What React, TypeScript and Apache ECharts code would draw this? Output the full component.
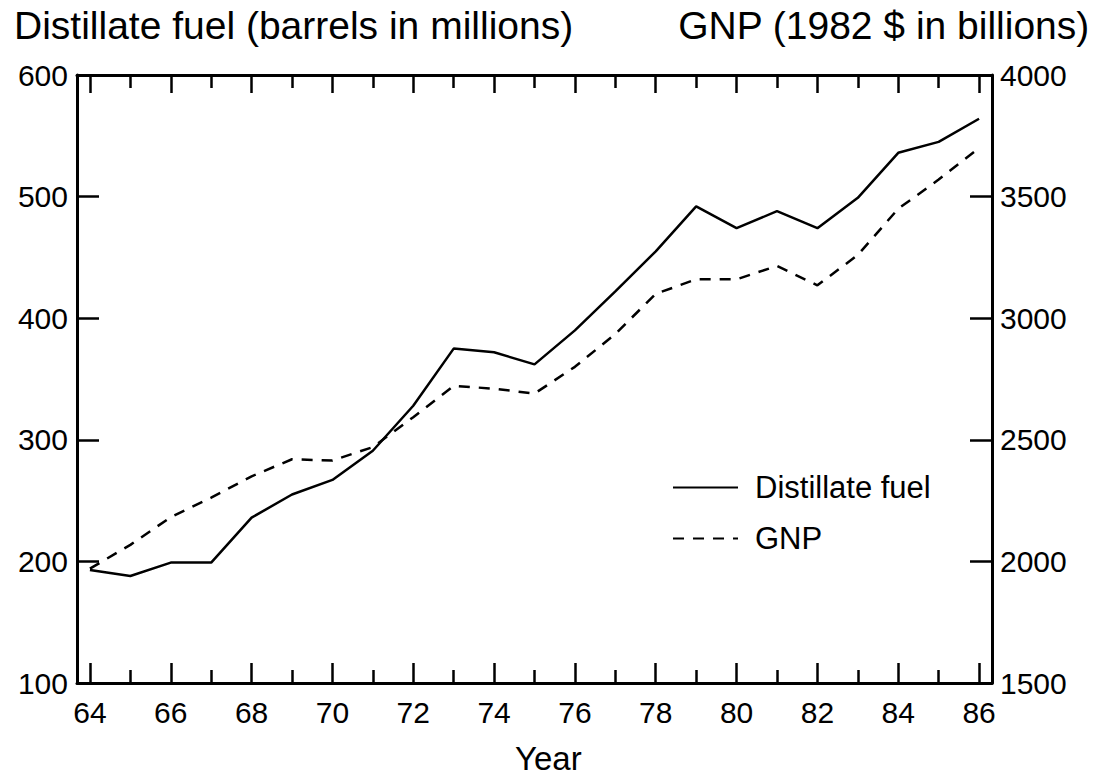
import React, { useEffect, useRef } from "react";
import * as echarts from "echarts";

const years = [64, 65, 66, 67, 68, 69, 70, 71, 72, 73, 74, 75, 76, 77, 78, 79, 80, 81, 82, 83, 84, 85, 86];
const distillate = [193, 188, 199, 199, 236, 255, 267, 291, 328, 375, 372, 362, 390, 422, 455, 492, 474, 488, 474, 499, 536, 545, 564];
const gnp = [1970, 2068, 2182, 2262, 2350, 2420, 2415, 2470, 2593, 2722, 2710, 2690, 2800, 2935, 3100, 3160, 3160, 3215, 3135, 3260, 3450, 3570, 3700];
const majorYears = [64, 66, 68, 70, 72, 74, 76, 78, 80, 82, 84, 86];
const minorYears = [65, 67, 69, 71, 73, 75, 77, 79, 81, 83, 85];

const leftTitle = "Distillate fuel (barrels in millions)";
const rightTitle = "GNP (1982 $ in billions)";
const xName = "Year";
const seriesNames = ["Distillate fuel", "GNP"];

const FONT = "'Liberation Sans', Arial, Helvetica, sans-serif";

export default function App() {
  const ref = useRef<HTMLDivElement>(null);
  useEffect(() => {
    if (!ref.current) return;
    const chart = echarts.init(ref.current, null, { renderer: "svg" });
    const xBase = {
      type: "value",
      min: 63.68,
      max: 86.32,
      splitLine: { show: false },
    };
    const tickStyle = { color: "#000", width: 2.5 };
    chart.setOption({
      animation: false,
      backgroundColor: "#fff",
      textStyle: { fontFamily: FONT, color: "#000" },
      grid: { left: 77, right: 105, top: 75, bottom: 97, containLabel: false, outerBoundsMode: "none" },
      xAxis: [
        {
          ...xBase,
          position: "bottom",
          axisLine: { show: true, lineStyle: { color: "#000", width: 3 } },
          axisTick: { show: true, inside: true, length: 20, lineStyle: tickStyle, customValues: majorYears },
          axisLabel: { show: true, customValues: majorYears, fontSize: 30, color: "#000", margin: 14, fontFamily: FONT },
        },
        {
          ...xBase,
          position: "bottom",
          axisLine: { show: false },
          axisTick: { show: true, inside: true, length: 13, lineStyle: tickStyle, customValues: minorYears },
          axisLabel: { show: false },
        },
        {
          ...xBase,
          position: "top",
          axisLine: { show: true, lineStyle: { color: "#000", width: 3 } },
          axisTick: { show: true, inside: true, length: 18, lineStyle: tickStyle, customValues: majorYears },
          axisLabel: { show: false },
        },
        {
          ...xBase,
          position: "top",
          axisLine: { show: false },
          axisTick: { show: true, inside: true, length: 13, lineStyle: tickStyle, customValues: minorYears },
          axisLabel: { show: false },
        },
      ],
      yAxis: [
        {
          type: "value",
          min: 100,
          max: 600,
          interval: 100,
          position: "left",
          axisLine: { show: true, lineStyle: { color: "#000", width: 3 } },
          axisTick: { show: true, inside: true, length: 22, lineStyle: tickStyle },
          axisLabel: { fontSize: 30, color: "#000", margin: 9, fontFamily: FONT, formatter: (v: number) => String(v) },
          splitLine: { show: false },
        },
        {
          type: "value",
          min: 1500,
          max: 4000,
          interval: 500,
          position: "right",
          axisLine: { show: true, lineStyle: { color: "#000", width: 3 } },
          axisTick: { show: true, inside: true, length: 22, lineStyle: tickStyle },
          axisLabel: { fontSize: 30, color: "#000", margin: 8, fontFamily: FONT, formatter: (v: number) => String(v) },
          splitLine: { show: false },
        },
      ],
      legend: {
        orient: "vertical",
        left: 672,
        top: 472,
        padding: 0,
        itemWidth: 65,
        itemHeight: 30,
        itemGap: 20,
        itemStyle: { opacity: 0 },
        textStyle: { fontSize: 31, color: "#000", fontFamily: FONT, padding: [0, 0, 0, 12] },
        data: seriesNames,
      },
      series: [
        {
          name: seriesNames[0],
          type: "line",
          xAxisIndex: 0,
          yAxisIndex: 0,
          symbol: "none",
          data: years.map((y, i) => [y, distillate[i]]),
          lineStyle: { color: "#000", width: 2.5, type: "solid" },
          itemStyle: { color: "#000" },
        },
        {
          name: seriesNames[1],
          type: "line",
          xAxisIndex: 0,
          yAxisIndex: 1,
          symbol: "none",
          data: years.map((y, i) => [y, gnp[i]]),
          lineStyle: { color: "#000", width: 2.5, type: [11, 9] },
          itemStyle: { color: "#000" },
        },
      ],
      graphic: [
        { type: "text", left: 14, top: 6, style: { text: leftTitle, fill: "#000", font: `39px ${FONT}` } },
        { type: "text", right: 7, top: 6, style: { text: rightTitle, fill: "#000", font: `39px ${FONT}` } },
        { type: "text", left: 515, top: 742, style: { text: xName, fill: "#000", font: `33px ${FONT}` } },
      ],
    });
    return () => chart.dispose();
  }, []);
  return <div ref={ref} style={{ position: "absolute", left: 0, top: 0, width: 1097, height: 780 }} />;
}
